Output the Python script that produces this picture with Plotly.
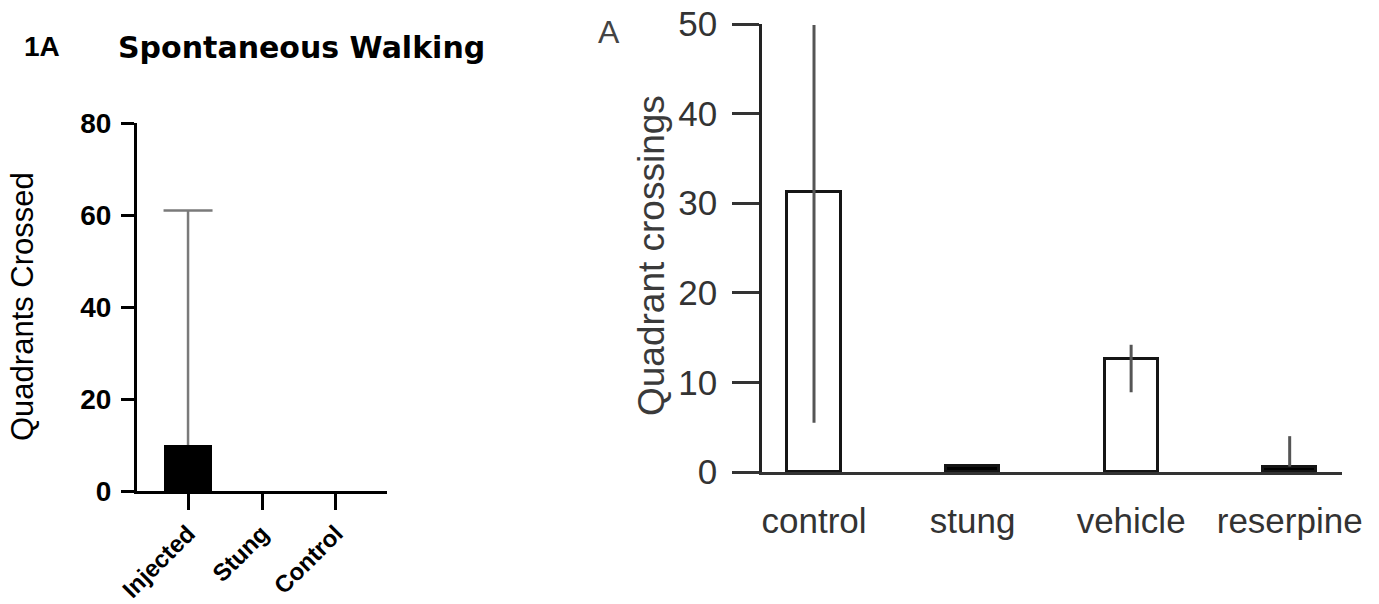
import plotly.graph_objects as go

W, H = 1379, 604

# ---- data ----
left_categories = ["Injected", "Stung", "Control"]
left_values = [10, 0, 0]
left_err_plus = [51, 0, 0]
left_yticks = [0, 20, 40, 60, 80]

right_categories = ["control", "stung", "vehicle", "reserpine"]
right_values = [31.3, 0.7, 12.6, 0.6]
right_err_plus = [18.6, 0, 1.6, 3.4]
right_err_minus = [25.8, 0, 3.7, 0]
right_fill = ["white", "black", "white", "black"]
right_yticks = [0, 10, 20, 30, 40, 50]


def px(x):
    return x / W


def py(y):
    return 1 - y / H


fig = go.Figure()

# left panel bars
fig.add_trace(go.Bar(
    x=left_categories, y=left_values, width=0.65,
    marker=dict(color="black", line=dict(width=0)),
    xaxis="x", yaxis="y", showlegend=False,
))
# left panel upper error bar: cap marker at the top, stem going down to the bar
err_x = [c for c, e in zip(left_categories, left_err_plus) if e > 0]
err_top = [v + e for v, e in zip(left_values, left_err_plus) if e > 0]
err_v = [e for e in left_err_plus if e > 0]
fig.add_trace(go.Scatter(
    x=err_x, y=err_top, mode="markers",
    marker=dict(symbol="line-ew-open", size=35, color="#7a7a7a",
                line=dict(color="#7a7a7a", width=2.5)),
    error_y=dict(type="data", array=[0] * len(err_v), arrayminus=err_v, symmetric=False,
                 color="#7a7a7a", thickness=2.5, width=0),
    xaxis="x", yaxis="y", showlegend=False, hoverinfo="skip",
))

# right panel bars
fig.add_trace(go.Bar(
    x=right_categories, y=right_values, width=0.335,
    marker=dict(color=right_fill, line=dict(color="#151515", width=3)),
    error_y=dict(type="data", array=right_err_plus, arrayminus=right_err_minus,
                 symmetric=False, color="#555555", thickness=3, width=0),
    xaxis="x2", yaxis="y2", showlegend=False,
))

right_font = dict(family="Liberation Sans", size=35, color="#333333")

fig.update_layout(
    template="none",
    width=W, height=H,
    margin=dict(l=0, r=0, t=0, b=0, pad=0, autoexpand=False),
    paper_bgcolor="white", plot_bgcolor="white",
    bargap=0,
    xaxis=dict(
        domain=[px(137), px(387)], range=[-0.69, 2.69], anchor="y", automargin=False,
        type="category", categoryorder="array", categoryarray=left_categories,
        showline=True, linecolor="black", linewidth=3,
        ticks="outside", ticklen=16, tickwidth=3, tickcolor="black",
        tickangle=-45, tickfont=dict(family="Liberation Sans", size=24, color="black", weight="bold"),
        showgrid=False, zeroline=False, fixedrange=True,
    ),
    yaxis=dict(
        domain=[py(491), py(123)], range=[0, 80], anchor="x", automargin=False,
        tickvals=left_yticks,
        showline=True, linecolor="black", linewidth=3,
        ticks="outside", ticklen=13, tickwidth=3, tickcolor="black",
        tickfont=dict(family="Liberation Sans", size=28, color="black", weight="bold"),
        ticklabelstandoff=4,
        showgrid=False, zeroline=False, fixedrange=True,
    ),
    xaxis2=dict(
        domain=[px(762), px(1342)], range=[-0.328, 3.33], anchor="y2", automargin=False,
        showline=True, linecolor="#333333", linewidth=3,
        ticks="", tickfont=right_font, ticklabelstandoff=16,
        showgrid=False, zeroline=False, fixedrange=True,
    ),
    yaxis2=dict(
        domain=[py(472), py(24)], range=[0, 50], anchor="x2", automargin=False,
        tickvals=right_yticks,
        showline=True, linecolor="#222222", linewidth=2.5,
        ticks="outside", ticklen=27, tickwidth=2.5, tickcolor="#333333",
        tickfont=right_font, ticklabelstandoff=8,
        showgrid=False, zeroline=False, fixedrange=True,
    ),
    annotations=[
        dict(text="<b>1A</b>", x=px(22), y=py(46), xref="paper", yref="paper",
             xanchor="left", yanchor="middle", showarrow=False,
             font=dict(family="Liberation Sans", size=28, color="black")),
        dict(text="<b>Spontaneous Walking</b>", x=px(116), y=py(47), xref="paper", yref="paper",
             xanchor="left", yanchor="middle", showarrow=False,
             font=dict(family="DejaVu Sans", size=30, color="black")),
        dict(text="Quadrants Crossed", x=px(22), y=py(307), xref="paper", yref="paper",
             xanchor="center", yanchor="middle", textangle=-90, showarrow=False,
             font=dict(family="Liberation Sans", size=31, color="black")),
        dict(text="A", x=px(596), y=py(32), xref="paper", yref="paper",
             xanchor="left", yanchor="middle", showarrow=False,
             font=dict(family="Liberation Sans", size=32, color="#444444")),
        dict(text="Quadrant crossings", x=px(652), y=py(256), xref="paper", yref="paper",
             xanchor="center", yanchor="middle", textangle=-90, showarrow=False,
             font=dict(family="Liberation Sans", size=37, color="#3a3a3a")),
    ],
)

fig.write_html("out.html")
